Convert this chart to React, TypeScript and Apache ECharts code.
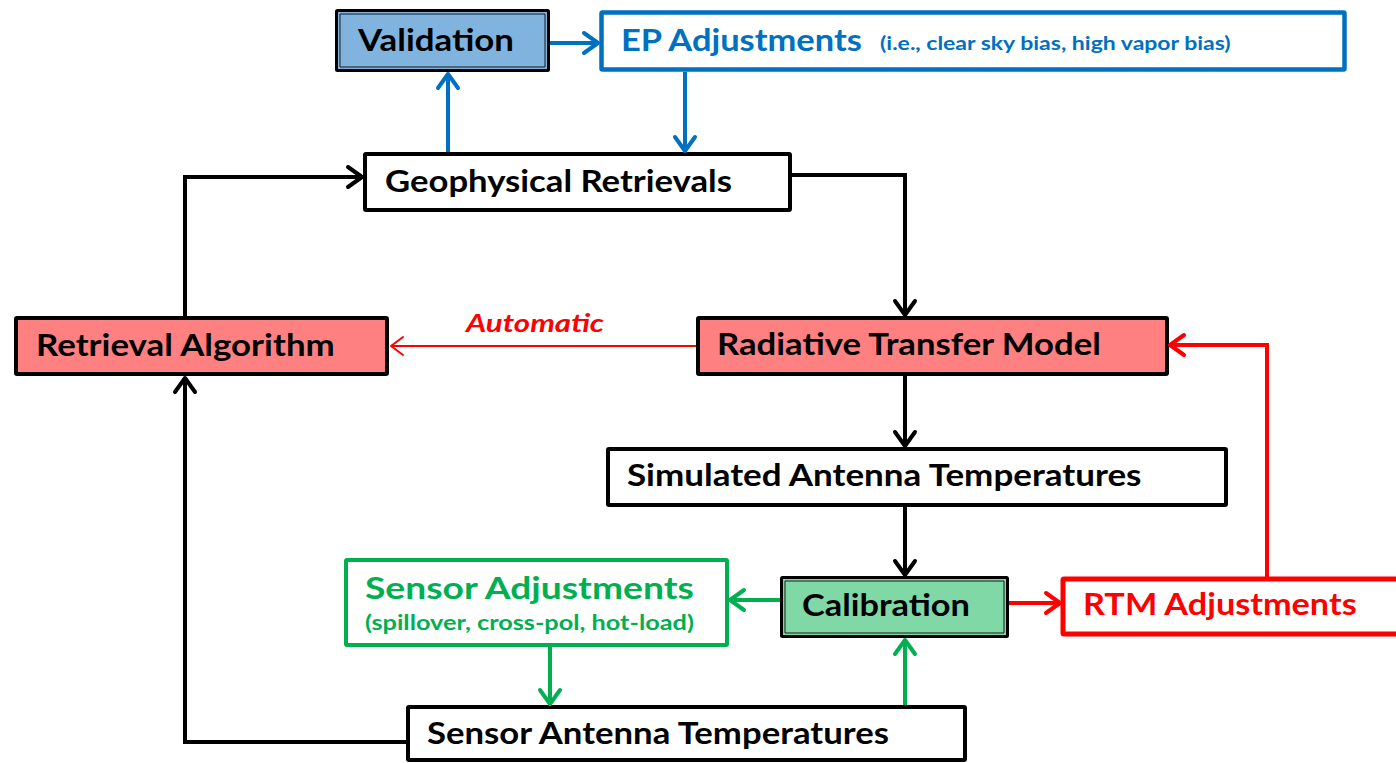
import React, { useEffect, useRef } from "react";
import * as echarts from "echarts";

// ---- data ----
const NODES = [
  "Validation",
  "EP Adjustments",
  "Geophysical Retrievals",
  "Retrieval Algorithm",
  "Radiative Transfer Model",
  "Simulated Antenna Temperatures",
  "Calibration",
  "Sensor Adjustments",
  "RTM Adjustments",
  "Sensor Antenna Temperatures",
];
const NOTE_NODES = ["EP Adjustments", "Sensor Adjustments"];
const NOTE_TEXTS = ["(i.e., clear sky bias, high vapor bias)", "(spillover, cross-pol, hot-load)"];
const EDGE_FROM = [
  "Geophysical Retrievals", "Validation", "EP Adjustments", "Geophysical Retrievals",
  "Radiative Transfer Model", "Retrieval Algorithm", "Radiative Transfer Model",
  "Simulated Antenna Temperatures", "Calibration", "Calibration", "RTM Adjustments",
  "Sensor Adjustments", "Sensor Antenna Temperatures", "Sensor Antenna Temperatures",
];
const EDGE_TO = [
  "Validation", "EP Adjustments", "Geophysical Retrievals", "Radiative Transfer Model",
  "Retrieval Algorithm", "Geophysical Retrievals", "Simulated Antenna Temperatures",
  "Calibration", "Sensor Adjustments", "RTM Adjustments", "Radiative Transfer Model",
  "Sensor Antenna Temperatures", "Calibration", "Retrieval Algorithm",
];
const EDGE_LABEL_FROM = "Radiative Transfer Model";
const EDGE_LABEL_TEXT = "Automatic";

// ---- styles & layout ----
const BLUE = "#0070C0";
const GREEN = "#00B050";
const RED = "#FF0000";
const BLACK = "#000000";

type Box = { x: number; y: number; w: number; h: number; fill: string; stroke: string; lw: number; double?: boolean; color: string; tx: number; ty: number; tw: number; size: number; nx?: number; ny?: number; nw?: number; nsize?: number };

const LAYOUT: Record<string, Box> = {
  "Validation": { x: 336.5, y: 10.5, w: 212, h: 60, fill: "#80B3DE", stroke: BLACK, lw: 3, double: true, color: BLACK, tx: 358, ty: 39, tw: 156, size: 31 },
  "EP Adjustments": { x: 601.5, y: 12.5, w: 743, h: 57, fill: "#FFFFFF", stroke: BLUE, lw: 4.5, color: BLUE, tx: 621, ty: 39, tw: 243, size: 31, nx: 880, ny: 42, nw: 353, nsize: 19 },
  "Geophysical Retrievals": { x: 365, y: 154, w: 425, h: 56, fill: "#FFFFFF", stroke: BLACK, lw: 4, color: BLACK, tx: 385, ty: 180, tw: 347, size: 31 },
  "Retrieval Algorithm": { x: 16, y: 318, w: 371, h: 56, fill: "#FF8080", stroke: BLACK, lw: 4, color: BLACK, tx: 36, ty: 344, tw: 300, size: 31 },
  "Radiative Transfer Model": { x: 698, y: 318, w: 469, h: 56, fill: "#FF8080", stroke: BLACK, lw: 4, color: BLACK, tx: 717, ty: 343, tw: 386, size: 31 },
  "Simulated Antenna Temperatures": { x: 608, y: 449, w: 618, h: 56, fill: "#FFFFFF", stroke: BLACK, lw: 4, color: BLACK, tx: 627, ty: 474, tw: 517, size: 31 },
  "Calibration": { x: 781.5, y: 577.5, w: 226, h: 59, fill: "#80D8A6", stroke: BLACK, lw: 3, double: true, color: BLACK, tx: 802, ty: 604, tw: 168, size: 31 },
  "Sensor Adjustments": { x: 346, y: 560, w: 381, h: 85, fill: "#FFFFFF", stroke: GREEN, lw: 4, color: GREEN, tx: 365, ty: 587, tw: 331, size: 31, nx: 365, ny: 622, nw: 329, nsize: 21 },
  "RTM Adjustments": { x: 1063, y: 579, w: 345, h: 55, fill: "#FFFFFF", stroke: RED, lw: 5, color: RED, tx: 1083, ty: 603, tw: 275, size: 31 },
  "Sensor Antenna Temperatures": { x: 408, y: 707, w: 557, h: 53, fill: "#FFFFFF", stroke: BLACK, lw: 4, color: BLACK, tx: 427, ty: 732, tw: 465, size: 31 },
};

const ROUTES: number[][][] = [
  [[448, 152], [448, 74]],
  [[550, 43], [598, 43]],
  [[685, 72], [685, 151]],
  [[792, 175], [905, 175], [905, 315]],
  [[696, 346], [391, 346]],
  [[185, 316], [185, 177], [362, 177]],
  [[905, 376], [905, 446]],
  [[905, 507], [905, 575]],
  [[780, 600], [730, 600]],
  [[1009, 603], [1060, 603]],
  [[1267, 577], [1267, 345], [1170, 345]],
  [[550, 647], [550, 704]],
  [[905, 705], [905, 640]],
  [[406, 742], [185, 742], [185, 378]],
];
const EDGE_COLORS = [BLUE, BLUE, BLUE, BLACK, RED, BLACK, BLACK, BLACK, GREEN, RED, RED, GREEN, GREEN, BLACK];
const EDGE_WIDTHS = [4, 4, 4, 4, 2, 4, 4, 4, 4, 4, 4, 4, 4, 4];
const LABEL_POS = { x: 466, y: 322, tw: 138, size: 25 };

const FONT = "Lato";
let measureCtx: CanvasRenderingContext2D | null = null;
function fitScale(text: string, font: string, target: number) {
  if (!measureCtx) measureCtx = document.createElement("canvas").getContext("2d");
  if (!measureCtx) return 1;
  measureCtx.font = font;
  const w = measureCtx.measureText(text).width;
  return w > 0 ? target / w : 1;
}

function textEl(text: string, x: number, y: number, tw: number, size: number, color: string, italic = false) {
  const font = `${italic ? "italic " : ""}bold ${size}px ${FONT}`;
  return {
    type: "text",
    x,
    y,
    scaleX: fitScale(text, font, tw),
    z: 10,
    style: {
      text,
      fill: color,
      fontFamily: FONT,
      fontSize: size,
      fontWeight: "bold",
      fontStyle: italic ? "italic" : "normal",
      align: "left",
      verticalAlign: "middle",
    },
  };
}

function arrowEls(pts: number[][], color: string, lw: number) {
  const n = pts.length;
  const [tx, ty] = pts[n - 1];
  const [px, py] = pts[n - 2];
  const len = Math.hypot(tx - px, ty - py);
  const dx = (tx - px) / len;
  const dy = (ty - py) / len;
  const L = lw > 3 ? 14 : 12;
  const W = lw > 3 ? 10 : 9;
  const nx = -dy;
  const ny = dx;
  const linePts = pts.map((p) => [p[0], p[1]]);
  linePts[n - 1] = [tx - dx * lw * 0.6, ty - dy * lw * 0.6];
  return [
    { type: "polyline", z: 5, shape: { points: linePts }, style: { stroke: color, lineWidth: lw, fill: null, lineJoin: "miter" } },
    {
      type: "polyline",
      z: 6,
      shape: { points: [[tx - dx * L + nx * W, ty - dy * L + ny * W], [tx, ty], [tx - dx * L - nx * W, ty - dy * L - ny * W]] },
      style: { stroke: color, lineWidth: lw, fill: null, lineJoin: "round", lineCap: "round" },
    },
  ];
}

function buildGraphic() {
  const els: any[] = [];
  NODES.forEach((name) => {
    const b = LAYOUT[name];
    els.push({ type: "rect", z: 2, shape: { x: b.x, y: b.y, width: b.w, height: b.h, r: 1 }, style: { fill: b.fill, stroke: b.stroke, lineWidth: b.lw } });
    if (b.double) {
      els.push({ type: "rect", z: 3, shape: { x: b.x + 3.5, y: b.y + 3.5, width: b.w - 7, height: b.h - 7 }, style: { fill: null, stroke: "#1a1a1a", lineWidth: 1 } });
    }
    els.push(textEl(name, b.tx, b.ty, b.tw, b.size, b.color));
    const ni = NOTE_NODES.indexOf(name);
    if (ni >= 0 && b.nx !== undefined) {
      els.push(textEl(NOTE_TEXTS[ni], b.nx, b.ny!, b.nw!, b.nsize!, b.color));
    }
  });
  EDGE_FROM.forEach((from, i) => {
    els.push(...arrowEls(ROUTES[i], EDGE_COLORS[i], EDGE_WIDTHS[i]));
    if (from === EDGE_LABEL_FROM && EDGE_TO[i] === "Retrieval Algorithm") {
      els.push(textEl(EDGE_LABEL_TEXT, LABEL_POS.x, LABEL_POS.y, LABEL_POS.tw, LABEL_POS.size, RED, true));
    }
  });
  return els;
}

export default function App() {
  const ref = useRef<HTMLDivElement>(null);
  useEffect(() => {
    document.body.style.margin = "0";
    if (!ref.current) return;
    const chart = echarts.init(ref.current, undefined, { renderer: "svg" });
    chart.setOption({
      animation: false,
      backgroundColor: "#FFFFFF",
      graphic: { elements: buildGraphic() },
    });
    return () => chart.dispose();
  }, []);
  return <div ref={ref} style={{ width: 1396, height: 763 }} />;
}
